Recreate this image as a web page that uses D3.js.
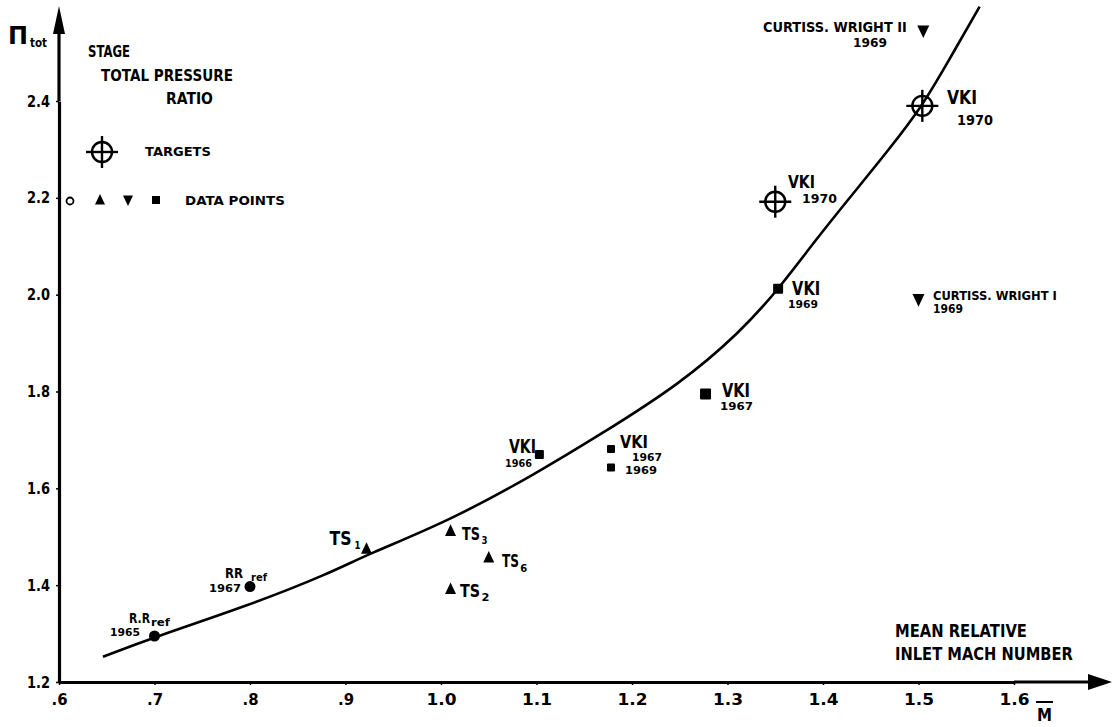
<!DOCTYPE html>
<html>
<head>
<meta charset="utf-8">
<script src="https://cdn.jsdelivr.net/npm/d3@7"></script>
<style>
  html, body { margin: 0; padding: 0; background: #fff; }
  svg { display: block; }
  text { font-family: "DejaVu Sans", "Liberation Sans", sans-serif; font-weight: bold; fill: #000; }
</style>
</head>
<body>
<svg id="chart" width="1113" height="727"></svg>
<script>
// ---------------- DATA ----------------
const xTicks = [0.6, 0.7, 0.8, 0.9, 1.0, 1.1, 1.2, 1.3, 1.4, 1.5, 1.6];
const xTickLabels = [".6", ".7", ".8", ".9", "1.0", "1.1", "1.2", "1.3", "1.4", "1.5", "1.6"];
const yTicks = [1.2, 1.4, 1.6, 1.8, 2.0, 2.2, 2.4];
const yTickLabels = ["1.2", "1.4", "1.6", "1.8", "2.0", "2.2", "2.4"];

// Fitted curve (M, pressure ratio)
const curveM = [0.646, 0.70, 0.80, 0.884, 0.921, 1.009, 1.10, 1.166, 1.25, 1.313, 1.353, 1.393, 1.432, 1.470, 1.504, 1.528, 1.564];
const curveP = [1.252, 1.293, 1.359, 1.425, 1.462, 1.533, 1.631, 1.710, 1.815, 1.922, 2.010, 2.115, 2.210, 2.302, 2.390, 2.471, 2.595];

// Data points
const circleM = [0.70, 0.80];
const circleP = [1.295, 1.397];
const upTriM = [0.922, 1.01, 1.05, 1.01];        // TS1, TS3, TS6, TS2
const upTriP = [1.475, 1.512, 1.457, 1.392];
const downTriM = [1.505, 1.50];                  // Curtiss-Wright II, I
const downTriP = [2.545, 1.99];
const squareM = [1.103, 1.178, 1.178, 1.277, 1.353];   // VKI 66, 67, 69, 67, 69
const squareP = [1.670, 1.681, 1.643, 1.795, 2.012];
const targetM = [1.35, 1.504];                   // VKI 1970 targets
const targetP = [2.192, 2.39];

// ---------------- LAYOUT ----------------
const svg = d3.select("#chart");
const x = d3.scaleLinear().domain([0.6, 1.6]).range([59, 1014]);
const y = d3.scaleLinear().domain([1.2, 2.4]).range([682, 101]);

// text drawn at natural size, then squeezed horizontally to the wanted width
function txt(g, str, px, py, size, width, opts) {
  opts = opts || {};
  const t = g.append("text")
    .attr("x", 0).attr("y", 0)
    .attr("font-size", size)
    .text(str);
  if (opts.italic) t.attr("font-style", "italic");
  const w = t.node().getComputedTextLength();
  const sx = width && w > 0 ? width / w : 1;
  t.attr("transform", `translate(${px},${py}) scale(${sx},1)`);
  return t;
}

// ---------------- AXES ----------------
const xAxis = d3.axisBottom(x).tickValues(xTicks)
  .tickFormat((d, i) => xTickLabels[i]).tickSize(3).tickSizeOuter(0).tickPadding(9);
const gx = svg.append("g").attr("transform", `translate(0,${y(1.2)})`).call(xAxis);
gx.select(".domain").attr("stroke-width", 3.2).attr("stroke", "#000");
gx.selectAll(".tick line").attr("stroke", "#000").attr("stroke-width", 1.5);
gx.selectAll(".tick text").attr("font-size", 16).attr("font-family", "DejaVu Sans")
  .attr("font-weight", "bold").attr("fill", "#000")
  .attr("textLength", (d, i) => xTickLabels[i].length > 2 ? 30 : 16)
  .attr("lengthAdjust", "spacingAndGlyphs");

const yAxis = d3.axisLeft(y).tickValues(yTicks)
  .tickFormat((d, i) => yTickLabels[i]).tickSize(3).tickSizeOuter(0).tickPadding(6);
const gy = svg.append("g").attr("transform", `translate(${x(0.6)},0)`).call(yAxis);
gy.select(".domain").attr("stroke-width", 3.2).attr("stroke", "#000");
gy.selectAll(".tick line").attr("stroke", "#000").attr("stroke-width", 1.5);
gy.selectAll(".tick text").attr("font-size", 16).attr("font-family", "DejaVu Sans")
  .attr("font-weight", "bold").attr("fill", "#000")
  .attr("textLength", 23).attr("lengthAdjust", "spacingAndGlyphs");

// axis extensions and arrow heads
const x0 = x(0.6), y0 = y(1.2);
svg.append("line").attr("x1", x(1.6)).attr("x2", 1092).attr("y1", y0).attr("y2", y0)
  .attr("stroke", "#000").attr("stroke-width", 3.2);
svg.append("path").attr("d", `M1088,${y0 - 8} L1112,${y0} L1088,${y0 + 8} Z`).attr("fill", "#000");
svg.append("line").attr("x1", x0).attr("x2", x0).attr("y1", y(2.4)).attr("y2", 30)
  .attr("stroke", "#000").attr("stroke-width", 3.2);
svg.append("path").attr("d", `M${x0 - 6},34 L${x0},6 L${x0 + 6},34 Z`).attr("fill", "#000");

// axis titles
txt(svg, "Π", 8, 44, 24, 20);
txt(svg, "tot", 30, 47, 12, 17);
txt(svg, "M", 1037, 721, 17, 15);
svg.append("line").attr("x1", 1036).attr("x2", 1053).attr("y1", 702).attr("y2", 702)
  .attr("stroke", "#000").attr("stroke-width", 2);
txt(svg, "MEAN RELATIVE", 895, 637, 18, 132);
txt(svg, "INLET MACH NUMBER", 895, 660, 18, 178);

// legend text
txt(svg, "STAGE", 88, 57, 15, 42);
txt(svg, "TOTAL PRESSURE", 101, 81, 15, 132);
txt(svg, "RATIO", 166, 104, 15, 47);
txt(svg, "TARGETS", 145, 156, 12, 66);
txt(svg, "DATA POINTS", 185, 205, 12, 100);

// ---------------- CURVE ----------------
const curvePts = curveM.map((m, i) => [m, curveP[i]]);
svg.append("path")
  .attr("d", d3.line().x(d => x(d[0])).y(d => y(d[1])).curve(d3.curveBasis)(curvePts))
  .attr("fill", "none").attr("stroke", "#000").attr("stroke-width", 2.6);

// ---------------- SYMBOLS ----------------
function target(g, cx, cy) {
  g.append("circle").attr("cx", cx).attr("cy", cy).attr("r", 10)
    .attr("fill", "none").attr("stroke", "#000").attr("stroke-width", 2.4);
  g.append("line").attr("x1", cx - 16).attr("x2", cx + 16).attr("y1", cy).attr("y2", cy)
    .attr("stroke", "#000").attr("stroke-width", 2.4);
  g.append("line").attr("x1", cx).attr("x2", cx).attr("y1", cy - 16).attr("y2", cy + 16)
    .attr("stroke", "#000").attr("stroke-width", 2.4);
}
function upTri(g, cx, cy, s) {
  g.append("path").attr("d", `M${cx},${cy - s * 0.6} L${cx + s * 0.5},${cy + s * 0.45} L${cx - s * 0.5},${cy + s * 0.45} Z`).attr("fill", "#000");
}
function downTri(g, cx, cy, s) {
  g.append("path").attr("d", `M${cx},${cy + s * 0.6} L${cx + s * 0.5},${cy - s * 0.45} L${cx - s * 0.5},${cy - s * 0.45} Z`).attr("fill", "#000");
}

const marks = svg.append("g");
circleM.forEach((m, i) => marks.append("circle").attr("cx", x(m)).attr("cy", y(circleP[i])).attr("r", 5.5).attr("fill", "#000"));
upTriM.forEach((m, i) => upTri(marks, x(m), y(upTriP[i]), 11));
downTriM.forEach((m, i) => downTri(marks, x(m), y(downTriP[i]), 12));
const sqSize = [9, 8, 8, 11, 10];
squareM.forEach((m, i) => marks.append("rect")
  .attr("x", x(m) - sqSize[i] / 2).attr("y", y(squareP[i]) - sqSize[i] / 2)
  .attr("width", sqSize[i]).attr("height", sqSize[i]).attr("rx", 1).attr("fill", "#000"));
targetM.forEach((m, i) => target(marks, x(m), y(targetP[i])));

// legend symbols
target(svg, 102, 152);
svg.append("circle").attr("cx", 70).attr("cy", 201).attr("r", 3.5).attr("fill", "none").attr("stroke", "#000").attr("stroke-width", 1.8);
upTri(svg, 100, 200, 10);
downTri(svg, 128, 200, 10);
svg.append("rect").attr("x", 152).attr("y", 196).attr("width", 8).attr("height", 8).attr("fill", "#000");

// ---------------- ANNOTATIONS (offsets relative to each point) ----------------
const ann = svg.append("g");
// item: [text, dx, dy, size, width]
function label(m, p, items) {
  const px = x(m), py = y(p);
  items.forEach(it => txt(ann, it[0], px + it[1], py + it[2], it[3], it[4]));
}
// circles
label(circleM[0], circleP[0], [["R.R", -25.5, -13, 14, 21], ["ref", -3.5, -10, 10, 19], ["1965", -44.5, 0, 10, 30]]);
label(circleM[1], circleP[1], [["RR", -25, -8.7, 14, 18], ["ref", 1, -6, 10, 16], ["1967", -41, 5, 10, 32]]);
// up triangles (TS)
label(upTriM[0], upTriP[0], [["TS", -37, -4, 19, 22], ["1", -12, 0, 10, 6]]);
label(upTriM[1], upTriP[1], [["TS", 11.4, 9, 18, 18], ["3", 31, 13, 10, 6]]);
label(upTriM[2], upTriP[2], [["TS", 13.2, 9.4, 18, 17], ["6", 31.5, 14, 10, 7]]);
label(upTriM[3], upTriP[3], [["TS", 9.4, 8, 18, 20], ["2", 31, 12, 10, 8]]);
// down triangles
label(downTriM[0], downTriP[0], [["CURTISS. WRIGHT II", -160.3, 1, 14, 144], ["1969", -70.3, 16, 13, 34]]);
label(downTriM[1], downTriP[1], [["CURTISS. WRIGHT I", 14.5, 0.4, 13, 124], ["1969", 14.5, 13.4, 12, 30]]);
// squares
label(squareM[0], squareP[0], [["VKI", -30.4, -1.6, 20, 27], ["1966", -34.4, 12.4, 10, 27]]);
label(squareM[1], squareP[1], [["VKI", 9, -1, 18, 28], ["1967", 21, 12, 10, 30]]);
label(squareM[2], squareP[2], [["1969", 14, 6, 10, 32]]);
label(squareM[3], squareP[3], [["VKI", 16.5, 3, 20, 28], ["1967", 14.5, 16, 11, 33]]);
label(squareM[4], squareP[4], [["VKI", 14, 6, 20, 28], ["1969", 10, 19, 11, 30]]);
// targets
label(targetM[0], targetP[0], [["VKI", 12.7, -14, 17, 27], ["1970", 26.7, 1, 13, 35]]);
label(targetM[1], targetP[1], [["VKI", 24.7, -2, 20, 30], ["1970", 34.7, 19, 14, 36]]);
</script>
</body>
</html>
